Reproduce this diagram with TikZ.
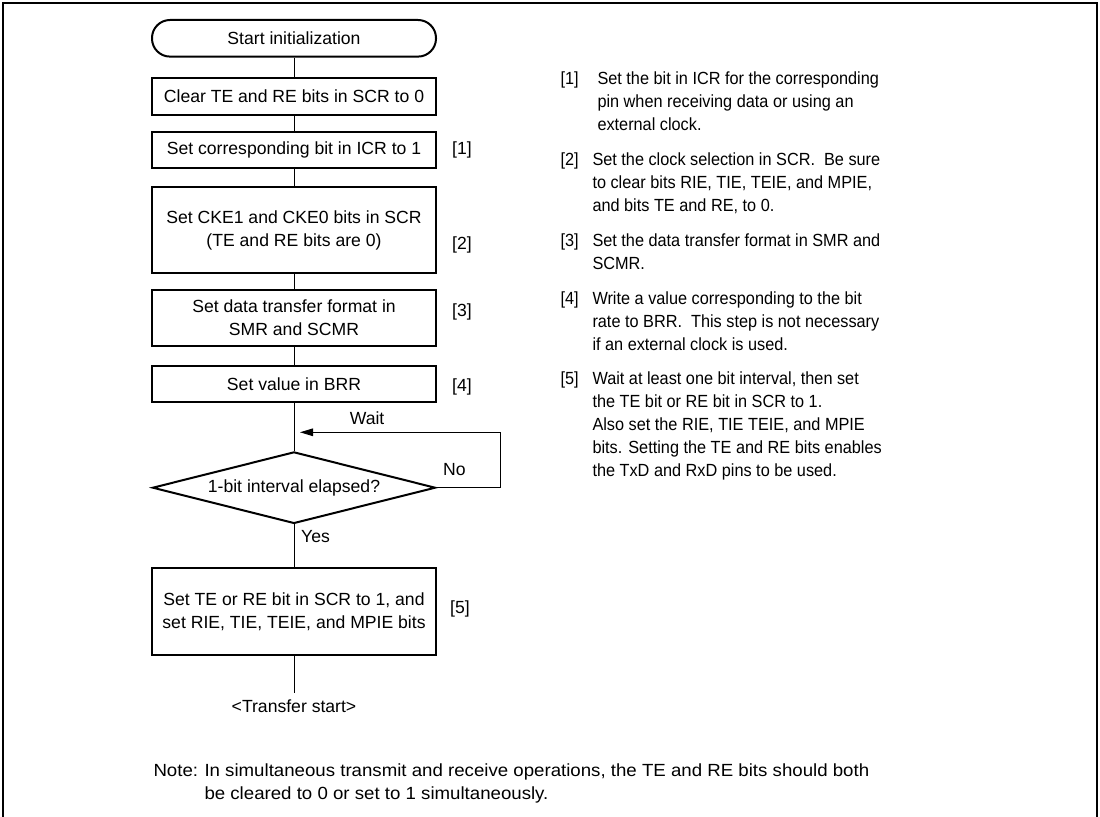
\documentclass[tikz,border=0pt]{standalone}
\usepackage{fontspec}
\setmainfont{Liberation Sans}
\newfontfamily\narrowfont[FakeStretch=0.925]{Liberation Sans}
\newfontfamily\widefont[FakeStretch=1.06]{Liberation Sans}
\usetikzlibrary{shapes.geometric, arrows.meta}

\begin{document}
\begin{tikzpicture}[x=0.5pt, y=-0.5pt, node distance=29pt,
    font=\fontsize{8.8pt}{11.5pt}\selectfont, line width=0.5pt,
    stepbox/.style={rectangle, draw, line width=1pt, minimum width=142pt,
                    minimum height=18pt, inner sep=2pt, align=center},
    termbox/.style={stepbox, rounded corners=9pt, minimum height=18.3pt},
    decision/.style={diamond, draw, line width=1pt, aspect=4, inner sep=0pt,
                     minimum width=141.5pt, minimum height=35.8pt},
    note/.style={anchor=base west, inner sep=0pt, align=left,
                 font=\narrowfont\fontsize{8.8pt}{11.5pt}\selectfont},
    footnote/.style={note, font=\widefont\fontsize{8.8pt}{11.5pt}\selectfont}]
  \useasboundingbox (0,0) rectangle (1100,817);
  \draw[line width=1pt] (3,817) -- (3,3) -- (1097,3) -- (1097,817);

  % flow
  \node[termbox] (start) at (294,38.3) {Start initialization};
  \node[stepbox, below of=start, node distance=29.1pt, minimum height=18.5pt] (clr)
      {Clear TE and RE bits in SCR to 0};
  \node[stepbox, below of=clr, node distance=26.75pt] (icr)
      {Set corresponding bit in ICR to 1};
  \node[stepbox, below of=icr, node distance=40pt, minimum height=43pt] (cke)
      {Set CKE1 and CKE0 bits in SCR\\(TE and RE bits are 0)};
  \node[stepbox, below of=cke, node distance=44pt, minimum height=28pt] (fmt)
      {Set data transfer format in\\SMR and SCMR};
  \node[stepbox, below of=fmt, node distance=33pt] (brr) {Set value in BRR};
  \node[decision, below of=brr, node distance=51.85pt] (dia) {1-bit interval elapsed?};
  \node[stepbox, below of=dia, node distance=61.8pt, minimum height=43.5pt] (ena)
      {Set TE or RE bit in SCR to 1, and\\set RIE, TIE, TEIE, and MPIE bits};
  \node[below of=ena, node distance=47.7pt] (go) {<Transfer start>};
  \coordinate[above of=dia, node distance=27.7pt] (join);

  % step numbers
  \node[right of=icr, node distance=84pt] (t1) {[1]};
  \node[right of=cke, node distance=84pt, yshift=-7.5pt] (t2) {[2]};
  \node[right of=fmt, node distance=84pt, yshift=3pt] (t3) {[3]};
  \node[right of=brr, node distance=84pt, yshift=-1.3pt] (t4) {[4]};
  \node[right of=ena, node distance=83pt, yshift=1.2pt] (t5) {[5]};

  \draw (start) -- (clr);
  \draw (clr) -- (icr);
  \draw (icr) -- (cke);
  \draw (cke) -- (fmt);
  \draw (fmt) -- (brr);
  \draw (brr) -- (dia);
  \draw (dia) -- node[right, pos=0.29] {Yes} (ena);
  \draw (ena) -- (go);
  \draw[-{Triangle[length=6.5pt, width=3.8pt]}, shorten >=3pt]
      (dia.east) -- node[above=2.4pt, pos=0.28] {No} ++(32pt,0)
      |- node[above, pos=0.823] {Wait} (join);

  % notes (base = last line)
  \node[note] (k1) at (560,84.6) {[1]};
  \node[note] (n1) at (597,130.6) {Set the bit in ICR for the corresponding\\pin when receiving data or using an\\external clock.};
  \node[note] (k2) at (560,165.6) {[2]};
  \node[note] (n2) at (592,211.6) {Set the clock selection in SCR.\ \ Be sure\\to clear bits RIE, TIE, TEIE, and MPIE,\\and bits TE and RE, to 0.};
  \node[note] (k3) at (560,246.3) {[3]};
  \node[note] (n3) at (592,269.3) {Set the data transfer format in SMR and\\SCMR.};
  \node[note] (k4) at (560,304.6) {[4]};
  \node[note] (n4) at (592,350.6) {Write a value corresponding to the bit\\rate to BRR.\ \ This step is not necessary\\if an external clock is used.};
  \node[note] (k5) at (560,384.6) {[5]};
  \node[note] (n5) at (592,476.6) {Wait at least one bit interval, then set\\the TE bit or RE bit in SCR to 1.\\Also set the RIE, TIE TEIE, and MPIE\\bits. Setting the TE and RE bits enables\\the TxD and RxD pins to be used.};

  \node[footnote] (kn) at (153,776.3) {Note:};
  \node[footnote] (nn) at (204,799.3) {In simultaneous transmit and receive operations, the TE and RE bits should both\\be cleared to 0 or set to 1 simultaneously.};
\end{tikzpicture}
\end{document}
